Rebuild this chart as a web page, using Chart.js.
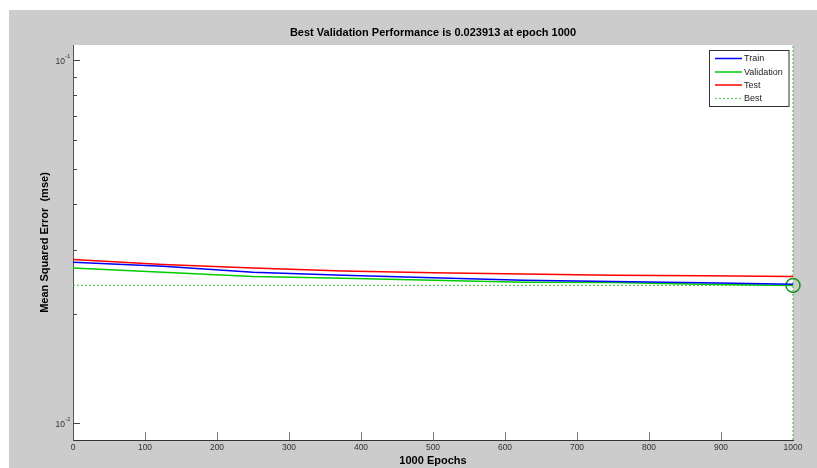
<!DOCTYPE html>
<html>
<head>
<meta charset="utf-8">
<script src="https://cdn.jsdelivr.net/npm/chart.js@4.4.0/dist/chart.umd.min.js"></script>
<style>
  html, body { margin: 0; padding: 0; background: #ffffff; }
  #wrap { width: 817px; height: 468px; }
</style>
</head>
<body>
<div id="wrap"><canvas id="c" width="817" height="468"></canvas></div>
<script>
// ---- data ----
const epochs     = [0, 125, 250, 375, 500, 625, 750, 875, 1000];
const train      = [0.0277, 0.0270, 0.0260, 0.0255, 0.0251, 0.0247, 0.0245, 0.0243, 0.0241];
const validation = [0.0267, 0.0260, 0.0253, 0.0250, 0.0247, 0.0244, 0.02435, 0.0241, 0.023913];
const test       = [0.0282, 0.0273, 0.0267, 0.0262, 0.0259, 0.0257, 0.0255, 0.0254, 0.0253];
const bestEpoch  = 1000;
const bestValue  = 0.023913;
const yMin = 0.00896, yMax = 0.110;
const xMin = 0, xMax = 1000, xStep = 100;
const yMajorTicks = [0.01, 0.1];
const yMajorLabels = [['10', '-2'], ['10', '-1']];
const yMinorTicks = [0.02, 0.03, 0.04, 0.05, 0.06, 0.07, 0.08, 0.09];
const titleText = 'Best Validation Performance is 0.023913 at epoch ' + bestEpoch;
const xTitle = '1000 Epochs';
const yTitle = 'Mean Squared Error  (mse)';

const pts = (arr) => arr.map((v, i) => ({ x: epochs[i], y: v }));

const FONT = 'Arial, "Liberation Sans", Helvetica, sans-serif';
const BEST_COLOR = 'rgba(60,185,60,0.8)';

const matlabPlugin = {
  id: 'matlab',
  beforeDraw(chart) {
    const { ctx, chartArea: a } = chart;
    ctx.save();
    ctx.fillStyle = '#ffffff';
    ctx.fillRect(0, 0, chart.width, chart.height);
    ctx.fillStyle = '#cccccc';
    ctx.fillRect(9, 10, chart.width - 9, chart.height - 10);
    ctx.fillStyle = '#ffffff';
    ctx.fillRect(a.left, a.top, a.right - a.left, a.bottom - a.top);
    // title
    ctx.fillStyle = '#000000';
    ctx.font = 'bold 11px ' + FONT;
    ctx.textAlign = 'center';
    ctx.textBaseline = 'middle';
    ctx.fillText(titleText, (a.left + a.right) / 2, 33);
    ctx.restore();
  },
  afterDraw(chart) {
    const { ctx, chartArea: a, scales } = chart;
    const xs = scales.x, ys = scales.y;
    ctx.save();
    // x ticks (inward)
    ctx.strokeStyle = '#777777';
    ctx.lineWidth = 1;
    xs.ticks.forEach(t => {
      const px = Math.round(xs.getPixelForValue(t.value)) + 0.5;
      if (t.value <= xMin || t.value >= xMax) return;
      ctx.beginPath();
      ctx.moveTo(px, a.bottom);
      ctx.lineTo(px, a.bottom - 8);
      ctx.stroke();
    });
    // y ticks (inward)
    ctx.strokeStyle = '#444444';
    yMinorTicks.forEach(v => {
      const py = Math.round(ys.getPixelForValue(v)) + 0.5;
      ctx.beginPath();
      ctx.moveTo(a.left, py);
      ctx.lineTo(a.left + 4, py);
      ctx.stroke();
    });
    yMajorTicks.forEach((v, i) => {
      const py = Math.round(ys.getPixelForValue(v)) + 0.5;
      ctx.beginPath();
      ctx.moveTo(a.left, py);
      ctx.lineTo(a.left + 7, py);
      ctx.stroke();
      ctx.fillStyle = '#333333';
      ctx.font = '8.5px ' + FONT;
      ctx.textAlign = 'right';
      ctx.textBaseline = 'middle';
      ctx.fillText(yMajorLabels[i][0], a.left - 8, py + 1);
      ctx.font = '6px ' + FONT;
      ctx.textAlign = 'left';
      ctx.fillText(yMajorLabels[i][1], a.left - 8, py - 4);
    });
    // legend
    const lx = 709.5, ly = 50.5, lw = 79.5, lh = 56;
    ctx.fillStyle = '#ffffff';
    ctx.fillRect(lx, ly, lw, lh);
    ctx.strokeStyle = '#333333';
    ctx.lineWidth = 1;
    ctx.setLineDash([]);
    ctx.strokeRect(lx, ly, lw, lh);
    const items = chart.data.datasets.filter(d => d.legend);
    const rowY = [58.5, 72, 85, 98.5];
    items.forEach((d, i) => {
      const y = rowY[i];
      ctx.strokeStyle = d.borderColor;
      ctx.lineWidth = d.legendWidth || 1.5;
      ctx.setLineDash(d.borderDash || []);
      ctx.beginPath();
      ctx.moveTo(715, y);
      ctx.lineTo(742, y);
      ctx.stroke();
      ctx.setLineDash([]);
      ctx.fillStyle = '#222222';
      ctx.font = '9px ' + FONT;
      ctx.textAlign = 'left';
      ctx.textBaseline = 'middle';
      ctx.fillText(d.label, 744, y + 0.5);
    });
    ctx.restore();
  }
};

new Chart(document.getElementById('c'), {
  type: 'line',
  data: {
    datasets: [
      { label: 'Train', data: pts(train), borderColor: '#0000ff', borderWidth: 1.5, pointRadius: 0, legend: true, tension: 0 },
      { label: 'Validation', data: pts(validation), borderColor: '#00cc00', borderWidth: 1.5, pointRadius: 0, legend: true, tension: 0 },
      { label: 'Test', data: pts(test), borderColor: '#ff0000', borderWidth: 1.5, pointRadius: 0, legend: true, tension: 0 },
      { label: 'Best', data: [{ x: xMin, y: bestValue }, { x: xMax, y: bestValue }], borderColor: BEST_COLOR, borderWidth: 1.3, borderDash: [2, 2], pointRadius: 0, legend: true, legendWidth: 1.2 },
      { label: 'BestV', data: [{ x: bestEpoch, y: yMin }, { x: bestEpoch, y: yMax }], borderColor: BEST_COLOR, borderWidth: 1.3, borderDash: [2, 2], pointRadius: 0, clip: false },
      { label: 'BestPt', data: [{ x: bestEpoch, y: bestValue }], showLine: false, pointRadius: 7, pointHoverRadius: 7, pointStyle: 'circle', pointBorderColor: '#1f8f1f', pointBackgroundColor: 'rgba(0,0,0,0)', pointBorderWidth: 1.5, borderColor: '#1f8f1f', clip: false }
    ]
  },
  options: {
    responsive: false,
    animation: false,
    events: [],
    layout: { padding: { left: 0, top: 45, right: 24, bottom: 0 } },
    plugins: { legend: { display: false }, title: { display: false }, tooltip: { enabled: false } },
    scales: {
      x: {
        type: 'linear', min: xMin, max: xMax, offset: false,
        grid: { display: false, drawTicks: false },
        border: { display: true, color: '#333333', width: 1 },
        ticks: { stepSize: xStep, color: '#333333', font: { family: FONT, size: 8.5 }, padding: 3, maxRotation: 0, autoSkip: false,
                 callback: (v) => String(v) },
        title: { display: true, text: xTitle, color: '#000000', font: { family: FONT, size: 11, weight: 'bold' }, padding: { top: 0, bottom: 0 } },
        afterFit(s) { s.height = 28; }
      },
      y: {
        type: 'logarithmic', min: yMin, max: yMax,
        grid: { display: false, drawTicks: false },
        border: { display: true, color: '#555555', width: 1 },
        ticks: { display: false },
        title: { display: true, text: yTitle, color: '#000000', font: { family: FONT, size: 11, weight: 'bold' }, padding: { top: 38, bottom: 0 } },
        afterFit(s) { s.width = 73; }
      }
    }
  },
  plugins: [matlabPlugin]
});
</script>
</body>
</html>
